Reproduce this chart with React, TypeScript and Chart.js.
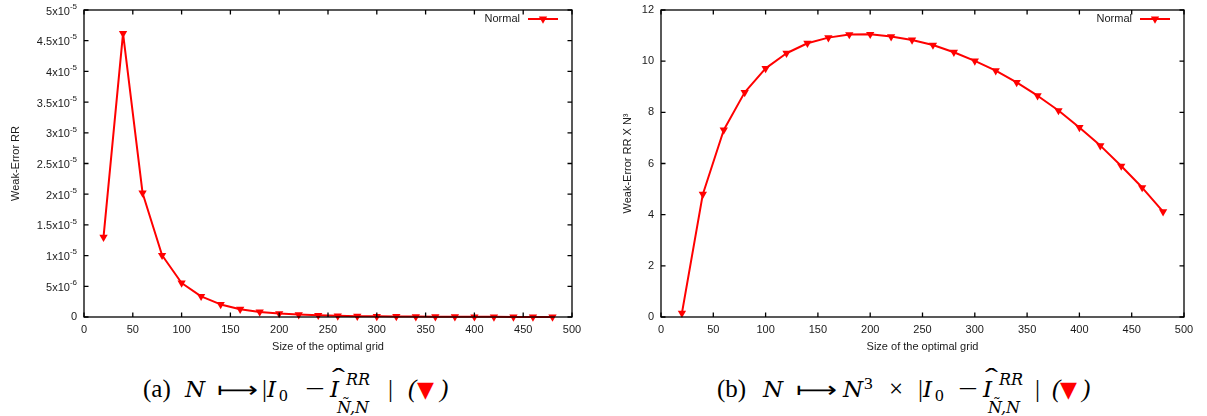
import React, { useEffect, useRef } from "react";
import { Chart, registerables } from "chart.js";

Chart.register(...registerables);

// ---------- data ----------
const gridSizes = [20, 40, 60, 80, 100, 120, 140, 160, 180, 200, 220, 240, 260, 280, 300, 320, 340, 360, 380, 400, 420, 440, 460, 480];
const weakErrorRR = [
  1.3e-5, 4.62e-5, 2.02e-5, 1.005e-5, 5.54e-6, 3.37e-6, 2.05e-6, 1.27e-6, 8.2e-7, 5.6e-7, 3.9e-7, 2.8e-7,
  1.9e-7, 1.4e-7, 1.05e-7, 8.0e-8, 6.2e-8, 4.8e-8, 3.8e-8, 3.0e-8, 2.4e-8, 2.0e-8, 1.6e-8, 1.3e-8,
];
const weakErrorRRxN3 = [
  0.15, 4.8, 7.31, 8.78, 9.72, 10.31, 10.7, 10.92, 11.04, 11.05, 10.96, 10.83,
  10.63, 10.35, 10.01, 9.63, 9.17, 8.65, 8.07, 7.41, 6.7, 5.9, 5.06, 4.12,
];
const xTickValues = [0, 50, 100, 150, 200, 250, 300, 350, 400, 450, 500];
const yTickValuesA = [0, 5e-6, 1e-5, 1.5e-5, 2e-5, 2.5e-5, 3e-5, 3.5e-5, 4e-5, 4.5e-5, 5e-5];
const yTickLabelsA = ["0", "5x10^-6", "1x10^-5", "1.5x10^-5", "2x10^-5", "2.5x10^-5", "3x10^-5", "3.5x10^-5", "4x10^-5", "4.5x10^-5", "5x10^-5"];
const yTickValuesB = [0, 2, 4, 6, 8, 10, 12];
const yTickLabelsB = ["0", "2", "4", "6", "8", "10", "12"];
const seriesName = "Normal";
const xTitle = "Size of the optimal grid";
const yTitleA = "Weak-Error RR";
const yTitleB = "Weak-Error RR X N\u00B3";

// ---------- styles ----------
const RED = "#ff0000";
const TEXT = "#1a1a1a";
const SANS = "'Liberation Sans', Arial, 'DejaVu Sans', sans-serif";
const SERIF = "'Liberation Serif', 'DejaVu Serif', serif";
const MATH = "'DejaVu Serif', 'Liberation Serif', serif";

type PanelProps = {
  left: number;
  width: number;
  values: number[];
  yMax: number;
  yTickValues: number[];
  yTickLabels: string[];
  yTitle: string;
  yAxisWidth: number;
  padRight: number;
  yTitlePad: number;
};

function Panel(p: PanelProps) {
  const ref = useRef<HTMLCanvasElement>(null);
  useEffect(() => {
    const canvas = ref.current;
    if (!canvas) return;
    const frame = {
      id: "gnuplotFrame",
      afterDraw(chart: any) {
        const ctx: CanvasRenderingContext2D = chart.ctx;
        const { left, right, top, bottom } = chart.chartArea;
        const xs = chart.scales.x;
        const ys = chart.scales.y;
        const tl = 4.5;
        ctx.save();
        ctx.strokeStyle = "#000";
        ctx.lineWidth = 1.3;
        ctx.strokeRect(left, top, right - left, bottom - top);
        ctx.beginPath();
        for (const v of xTickValues) {
          const x = xs.getPixelForValue(v);
          ctx.moveTo(x, bottom);
          ctx.lineTo(x, bottom - tl);
          ctx.moveTo(x, top);
          ctx.lineTo(x, top + tl);
        }
        for (const v of p.yTickValues) {
          const y = ys.getPixelForValue(v);
          ctx.moveTo(left, y);
          ctx.lineTo(left + tl, y);
          ctx.moveTo(right, y);
          ctx.lineTo(right - tl, y);
        }
        ctx.stroke();

        // y tick labels with superscripts
        ctx.fillStyle = TEXT;
        ctx.textBaseline = "middle";
        ctx.textAlign = "right";
        const xr = left - 7;
        p.yTickValues.forEach((v, i) => {
          const y = ys.getPixelForValue(v);
          const lab = p.yTickLabels[i];
          const parts = lab.split("^");
          if (parts.length === 2) {
            ctx.font = `8px ${SANS}`;
            const ew = ctx.measureText(parts[1]).width;
            ctx.fillText(parts[1], xr, y - 3.5);
            ctx.font = `11px ${SANS}`;
            ctx.fillText(parts[0], xr - ew, y + 1.5);
          } else {
            ctx.font = `11px ${SANS}`;
            ctx.fillText(lab, xr, y);
          }
        });

        // legend (gnuplot style: text then sample)
        const ly = top + 9;
        const lx1 = right - 44;
        const lx2 = right - 14;
        ctx.font = `11px ${SANS}`;
        ctx.textAlign = "right";
        ctx.fillText(seriesName, lx1 - 8, ly);
        ctx.strokeStyle = RED;
        ctx.lineWidth = 2;
        ctx.beginPath();
        ctx.moveTo(lx1, ly);
        ctx.lineTo(lx2, ly);
        ctx.stroke();
        const cx = (lx1 + lx2) / 2;
        const r = 4.8;
        ctx.fillStyle = RED;
        ctx.beginPath();
        ctx.moveTo(cx, ly + r);
        ctx.lineTo(cx - r * 0.866, ly - r / 2);
        ctx.lineTo(cx + r * 0.866, ly - r / 2);
        ctx.closePath();
        ctx.fill();
        ctx.restore();
      },
    };

    const chart = new Chart(canvas, {
      type: "line",
      data: {
        datasets: [
          {
            label: seriesName,
            data: gridSizes.map((x, i) => ({ x, y: p.values[i] })),
            borderColor: RED,
            backgroundColor: RED,
            borderWidth: 2,
            borderJoinStyle: "round",
            pointStyle: "triangle",
            pointRotation: 180,
            pointRadius: 4.8,
            pointHoverRadius: 4.8,
            pointBorderWidth: 0,
            pointBackgroundColor: RED,
            tension: 0,
            clip: false,
          } as any,
        ],
      },
      options: {
        responsive: false,
        animation: false,
        events: [],
        layout: { padding: { left: 0, top: 10, right: p.padRight, bottom: 0 } },
        plugins: { legend: { display: false }, tooltip: { enabled: false } },
        scales: {
          x: {
            type: "linear",
            min: 0,
            max: 500,
            afterBuildTicks: (s: any) => {
              s.ticks = xTickValues.map((v) => ({ value: v }));
            },
            afterFit: (s: any) => {
              s.height = 43;
            },
            grid: { display: false, drawTicks: false },
            border: { display: false },
            ticks: { padding: 6, color: TEXT, font: { family: SANS, size: 11 }, maxRotation: 0, autoSkip: false },
            title: {
              display: true,
              text: xTitle,
              color: TEXT,
              font: { family: SANS, size: 11 },
              padding: { top: 0, bottom: 6 },
            },
          },
          y: {
            type: "linear",
            min: 0,
            max: p.yMax,
            afterBuildTicks: (s: any) => {
              s.ticks = p.yTickValues.map((v) => ({ value: v }));
            },
            afterFit: (s: any) => {
              s.width = p.yAxisWidth;
            },
            grid: { display: false, drawTicks: false },
            border: { display: false },
            ticks: { display: false },
            title: {
              display: true,
              text: p.yTitle,
              color: TEXT,
              font: { family: SANS, size: 11 },
              padding: { top: p.yTitlePad, bottom: 0 },
            },
          },
        },
      } as any,
      plugins: [frame],
    });
    return () => chart.destroy();
  }, []);
  return (
    <canvas
      ref={ref}
      width={p.width}
      height={360}
      style={{ position: "absolute", left: p.left, top: 0, width: p.width, height: 360, display: "block" }}
    />
  );
}

// ---------- caption (typeset by hand) ----------
function Box({ w, children, style }: { w: number; children?: React.ReactNode; style?: React.CSSProperties }) {
  return <span style={{ display: "inline-block", width: w, whiteSpace: "nowrap", ...style }}>{children}</span>;
}

function M({ children, size = 23, dy = 0 }: { children: React.ReactNode; size?: number; dy?: number }) {
  return (
    <span style={{ fontFamily: MATH, fontStyle: "italic", fontSize: size, position: "relative", top: dy }}>{children}</span>
  );
}

function Up({ children, size, dy = 0, sx = 1 }: { children: React.ReactNode; size?: number; dy?: number; sx?: number }) {
  return (
    <span
      style={{
        display: "inline-block",
        fontSize: size,
        position: "relative",
        top: dy,
        transform: sx !== 1 ? `scaleX(${sx})` : undefined,
        transformOrigin: "left",
      }}
    >
      {children}
    </span>
  );
}

type TailW = { bar1: number; i: number; zero: number; minus: number; hat: number; stack: number; subDx: number; bar2: number; lp: number; tri: number };

function Tail({ w }: { w: TailW }) {
  return (
    <>
      <Box w={w.bar1}>|</Box>
      <Box w={w.i}><M>I</M></Box>
      <Box w={w.zero}><Up size={17.5} dy={4}>0</Up></Box>
      <Box w={w.minus}><Up sx={1.4}>{"\u2212"}</Up></Box>
      <Box w={w.hat} style={{ position: "relative" }}>
        <M>I</M>
        <span style={{ position: "absolute", left: 2, top: -11, transform: "scaleX(1.55)", transformOrigin: "left" }}>
          {"\u02C6"}
        </span>
      </Box>
      <Box w={w.stack} style={{ position: "relative" }}>
        <M size={16} dy={-12}>RR</M>
        <span style={{ position: "absolute", left: w.subDx, top: 16, lineHeight: "30px" }}>
          <M size={16}>{"\u00D1,N"}</M>
        </span>
      </Box>
      <Box w={w.bar2}>|</Box>
      <Box w={w.lp}><i>(</i></Box>
      <Box w={w.tri}>
        <span style={{ color: RED, fontFamily: "'DejaVu Sans', sans-serif", fontSize: 22 }}>{"\u25BC"}</span>
      </Box>
      <i>)</i>
    </>
  );
}

const captionStyle = (left: number): React.CSSProperties => ({
  position: "absolute",
  left,
  top: 373.6,
  fontFamily: SERIF,
  fontSize: 25,
  lineHeight: "30px",
  whiteSpace: "nowrap",
  color: "#000",
});

function Arrow({ w }: { w: number }) {
  return (
    <Box w={w}>
      <span style={{ display: "inline-block", fontFamily: "'DejaVu Sans', sans-serif", fontSize: 22, transform: "scaleX(1.3)", transformOrigin: "left" }}>
        {"\u27FC"}
      </span>
    </Box>
  );
}

export default function App() {
  return (
    <div style={{ position: "absolute", left: 0, top: 0, width: 1207, height: 416, background: "#fff", overflow: "hidden" }}>
      <Panel
        left={0}
        width={600}
        values={weakErrorRR}
        yMax={5e-5}
        yTickValues={yTickValuesA}
        yTickLabels={yTickLabelsA}
        yTitle={yTitleA}
        yAxisWidth={84}
        padRight={28}
        yTitlePad={9.1}
      />
      <Panel
        left={600}
        width={607}
        values={weakErrorRRxN3}
        yMax={12}
        yTickValues={yTickValuesB}
        yTickLabels={yTickLabelsB}
        yTitle={yTitleB}
        yAxisWidth={61}
        padRight={23}
        yTitlePad={21.4}
      />
      <div style={captionStyle(143)}>
        <Box w={42}>(a)</Box>
        <Box w={32}><M>N</M></Box>
        <Arrow w={45} />
        <Tail w={{ bar1: 5, i: 12, zero: 26, minus: 25, hat: 16, stack: 42, subDx: -9, bar2: 20, lp: 9, tri: 23 }} />
      </div>
      <div style={captionStyle(717)}>
        <Box w={46}>(b)</Box>
        <Box w={33}><M>N</M></Box>
        <Arrow w={47} />
        <Box w={21}><M>N</M></Box>
        <Box w={25}><Up size={17.5} dy={-8}>3</Up></Box>
        <Box w={29}>{"\u00D7"}</Box>
        <Tail w={{ bar1: 5, i: 12, zero: 23, minus: 25, hat: 16, stack: 36, subDx: -11, bar2: 17, lp: 8, tri: 22 }} />
      </div>
    </div>
  );
}
